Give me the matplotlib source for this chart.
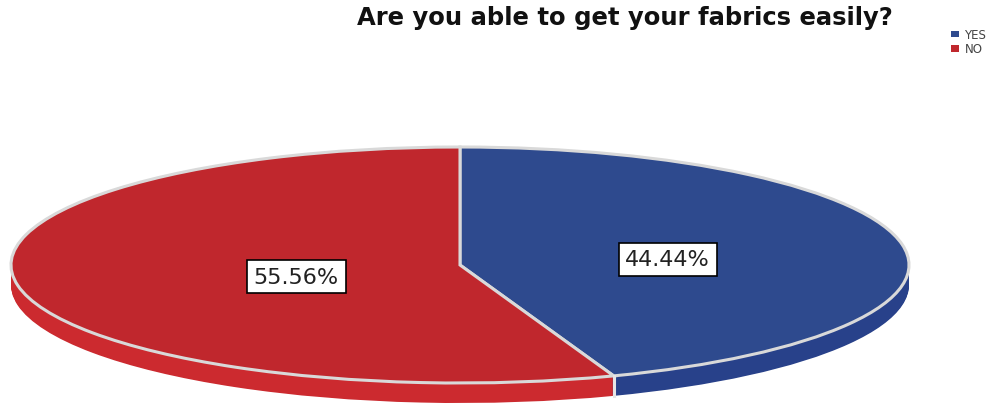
import numpy as np
import matplotlib.pyplot as plt
from matplotlib.patches import Patch

categories = ['YES', 'NO']
percents = [44.44, 55.56]

top_colors = ['#2e4a8e', '#c0272d']
side_colors = ['#28418a', '#cc2a2f']

# ellipse geometry in pixel space
cx, cy = 460, 266
rx, ry = 449, 118
depth = 20

fig = plt.figure(figsize=(9.92, 4.14), dpi=100)
ax = fig.add_axes([0, 0, 1, 1])

d = depth / ry
# side of the disc: stack copies of the pie downwards
for off in np.linspace(d, 0, 25):
    ax.pie(percents, center=(0, -off), colors=side_colors, startangle=90,
           counterclock=False, wedgeprops=dict(linewidth=0))

# light seam where the two slices meet on the rim
ang = np.deg2rad(90 - 360 * percents[0] / 100)
ax.plot([np.cos(ang), np.cos(ang)], [np.sin(ang), np.sin(ang) - d],
        color='#e6e6e6', lw=2.2, zorder=5)

wedges, texts, autotexts = ax.pie(
    percents, colors=top_colors, startangle=90, counterclock=False,
    autopct='%.2f%%', pctdistance=0.42,
    wedgeprops=dict(edgecolor='#d9d9d9', linewidth=2.2),
    textprops=dict(fontsize=16, color='#222222'))
for t in autotexts:
    x, y = t.get_position()
    t.set_position((x + 22 / rx, y - 3 / ry))
    t.set_bbox(dict(boxstyle='square,pad=0.3', facecolor='white',
                    edgecolor='black', linewidth=1.2))
    t.set_zorder(10)

ax.set_aspect('auto')
ax.set_xlim(-cx / rx, (992 - cx) / rx)
ax.set_ylim(-(414 - cy) / ry, cy / ry)
ax.axis('off')

fig.text(0.63, 0.985, 'Are you able to get your fabrics easily?',
         ha='center', va='top', fontsize=17.5, fontweight='bold', color='#111111')

handles = [Patch(facecolor=c, edgecolor='none') for c in top_colors]
fig.legend(handles, categories, loc='upper right', bbox_to_anchor=(1.005, 0.955),
           frameon=False, fontsize=8.5, handlelength=0.6, handleheight=0.5,
           handletextpad=0.5, labelspacing=0.1, labelcolor='#444444')

fig.savefig('out.png', dpi=100)
